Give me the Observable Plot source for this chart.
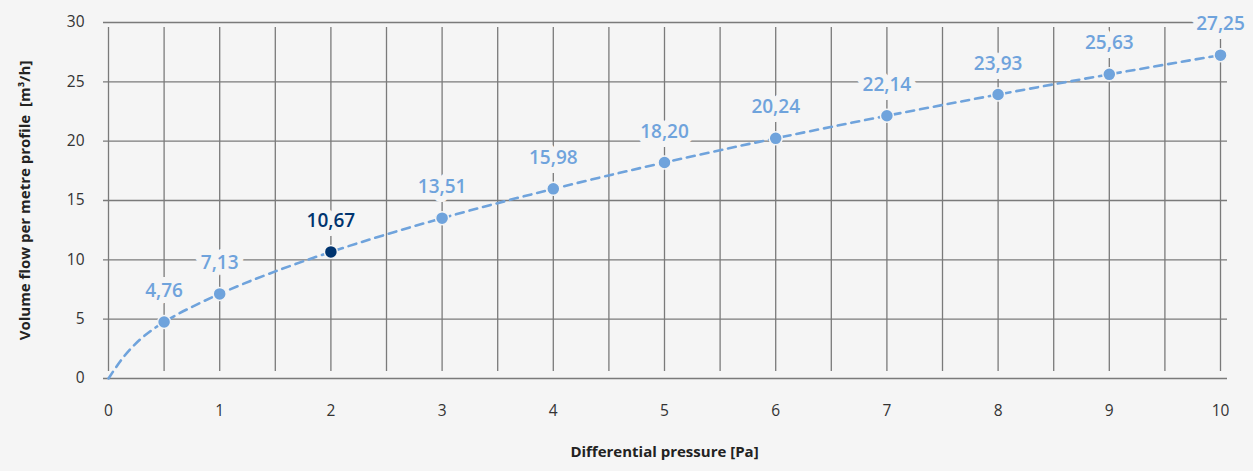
<!DOCTYPE html>
<html>
<head>
<meta charset="utf-8">
<script src="https://cdn.jsdelivr.net/npm/d3@7"></script>
<script src="https://cdn.jsdelivr.net/npm/@observablehq/plot@0.6"></script>
<style>
  html, body { margin: 0; padding: 0; background: #f5f5f5; }
  #chart svg { display: block; }
</style>
</head>
<body>
<div id="chart"></div>
<script>
// Data
const pressure = [0.5, 1, 2, 3, 4, 5, 6, 7, 8, 9, 10];           // Pa
const flow = [4.76, 7.13, 10.67, 13.51, 15.98, 18.20, 20.24, 22.14, 23.93, 25.63, 27.25]; // m³/h
const valueLabels = ["4,76", "7,13", "10,67", "13,51", "15,98", "18,20", "20,24", "22,14", "23,93", "25,63", "27,25"];
const highlighted = [false, false, true, false, false, false, false, false, false, false, false];
// curve starts at the origin
const curveX = [0, ...pressure];
const curveY = [0, ...flow];

const xTicks = [0, 1, 2, 3, 4, 5, 6, 7, 8, 9, 10];
const xGrid = [0, 0.5, 1, 1.5, 2, 2.5, 3, 3.5, 4, 4.5, 5, 5.5, 6, 6.5, 7, 7.5, 8, 8.5, 9, 9.5, 10];
const yTicks = [0, 5, 10, 15, 20, 25, 30];

const xTitle = "Differential pressure [Pa]";
const yTitle = "Volume flow per metre profile  [m³/h]";

const light = "#6fa3dc";
const dark = "#00346f";
const bg = "#f5f5f5";

const points = pressure.map((p, i) => ({x: p, y: flow[i], label: valueLabels[i], hi: highlighted[i]}));
const curve = curveX.map((x, i) => ({x, y: curveY[i]}));

const chart = Plot.plot({
  width: 1253,
  height: 471,
  marginLeft: 108,
  marginRight: 33,
  marginTop: 22,
  marginBottom: 93,
  x: {domain: [0, 10]},
  y: {domain: [0, 30]},
  style: {background: bg, fontFamily: "'Open Sans', 'Noto Sans', sans-serif", color: "#333"},
  marks: [
    Plot.ruleX(xGrid, {x: d => d, y1: 0, y2: 30, stroke: "#7a7a7a", strokeWidth: 1.3, insetTop: -7, insetBottom: -5}),
    Plot.ruleY(yTicks, {y: d => d, x1: 0, x2: 10, stroke: "#7a7a7a", strokeWidth: 1.3, insetLeft: -5, insetRight: -7}),
    Plot.axisX(xTicks, {tickSize: 0, tickPadding: 26, fontSize: 15.5, fill: "#333", label: null}),
    Plot.axisY(yTicks, {tickSize: 0, tickPadding: 24, fontSize: 15.5, fill: "#333", label: null}),
    Plot.text([xTitle], {frameAnchor: "bottom", textAnchor: "middle", dy: 78, fontSize: 15, fontWeight: "bold", fill: "#222"}),
    Plot.text([yTitle], {frameAnchor: "left", textAnchor: "middle", rotate: -90, dx: -83, fontSize: 15, fontWeight: "bold", fill: "#222"}),
    Plot.text(points, {x: "x", y: "y", text: "label", dy: -31, fontSize: 19, fontWeight: 600,
      fill: d => d.hi ? dark : light, stroke: bg, strokeWidth: 12, strokeLinejoin: "round"}),
    Plot.line(curve, {x: "x", y: "y", curve: "monotone-y", stroke: light, strokeWidth: 2.6, strokeDasharray: "8,6"}),
    Plot.dot(points, {x: "x", y: "y", r: 6.5, fill: d => d.hi ? dark : light, stroke: bg, strokeWidth: 1.5})
  ]
});
document.getElementById("chart").appendChild(chart);
</script>
</body>
</html>
